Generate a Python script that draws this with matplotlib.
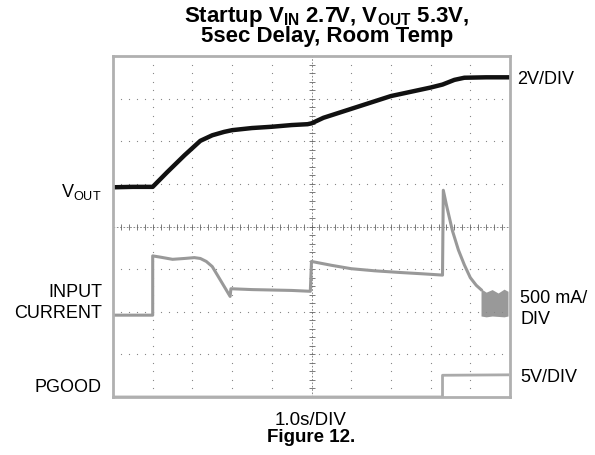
import matplotlib
matplotlib.use("Agg")
import matplotlib.pyplot as plt
import numpy as np

plt.rcParams['font.family'] = ['Liberation Sans', 'DejaVu Sans']
plt.rcParams['mathtext.fontset'] = 'custom'
plt.rcParams['mathtext.rm'] = 'Liberation Sans'
plt.rcParams['mathtext.bf'] = 'Liberation Sans:bold'

# traces, in scope divisions (x: 0..10, y: 0..8 from bottom)
t_vout = [0, 0.5, 1.0, 1.36, 1.8, 2.2, 2.5, 2.8, 3.0, 3.5, 4.0, 4.5, 4.9,
          5.0, 5.3, 6.0, 7.0, 8.0, 8.3, 8.6, 8.85, 9.4, 9.95]
vout = [4.92, 4.93, 4.93, 5.27, 5.67, 6.01, 6.14, 6.22, 6.26, 6.31, 6.34, 6.38, 6.40,
        6.42, 6.55, 6.76, 7.06, 7.26, 7.33, 7.44, 7.49, 7.50, 7.50]

t_iin = [0, 1.0, 1.0, 1.2, 1.5, 1.8, 2.05, 2.2, 2.35, 2.5, 2.7, 2.95, 2.97, 3.5, 4.0,
         4.5, 4.97, 5.0, 5.5, 6.0, 6.6, 7.25, 7.8, 8.3, 8.32, 8.4, 8.55, 8.7,
         8.85, 9.0, 9.15, 9.27]
iin = [1.92, 1.92, 3.31, 3.28, 3.23, 3.25, 3.27, 3.25, 3.18, 3.06, 2.75, 2.36, 2.54, 2.52, 2.51,
       2.50, 2.48, 3.18, 3.09, 3.01, 2.96, 2.92, 2.89, 2.86, 4.85, 4.5, 3.9, 3.45,
       3.1, 2.8, 2.62, 2.52]

# switching ripple band at the end of the current trace
t_band = [9.27, 9.4, 9.55, 9.7, 9.85, 9.95]
band_hi = [2.54, 2.46, 2.52, 2.44, 2.53, 2.48]
band_lo = [1.9, 1.88, 1.9, 1.89, 1.88, 1.9]

t_pg = [0, 8.3, 8.3, 9.95]
pgood = [0.0, 0.0, 0.51, 0.52]

fig = plt.figure(figsize=(5.95, 4.56), dpi=100)
ax = fig.add_axes([113/595, 1 - 398/456, 397/595, 341/456])
ax.set_xlim(0, 10)
ax.set_ylim(0, 8)

# graticule: dotted grid, center cross with minor ticks
sub = np.arange(0, 10.01, 0.2)
subv = np.arange(0, 8.01, 0.2)
for k in range(1, 10):
    if k != 5:
        ax.plot(np.full(len(subv), k), subv, ls='none', marker='s', ms=0.8, mew=0, color='#888888')
for k in range(1, 8):
    if k != 4:
        ax.plot(sub, np.full(len(sub), k), ls='none', marker='s', ms=0.8, mew=0, color='#888888')
ax.plot([0, 10], [4, 4], color='#777777', lw=0.6, ls=(0, (2, 2)))
ax.plot([5, 5], [0, 8], color='#777777', lw=0.6, ls=(0, (2, 2)))
ax.plot(sub, np.full(len(sub), 4), ls='none', marker='|', ms=4, mew=0.6, color='#666666')
ax.plot(np.full(len(subv), 5), subv, ls='none', marker='_', ms=4, mew=0.6, color='#666666')

ax.plot(t_pg, pgood, color='#aaaaaa', lw=2)
ax.plot(t_iin, iin, color='#999999', lw=2.2, solid_joinstyle='round')
ax.fill_between(t_band, band_lo, band_hi, color='#999999', lw=0)
ax.plot(t_vout, vout, color='#111111', lw=3.2, solid_joinstyle='round')

ax.set_xticks([])
ax.set_yticks([])
for s in ax.spines.values():
    s.set_color('#b0b0b0')
    s.set_linewidth(2)

W, H = 595, 456
fs = 13
fig.text(327/W, 1 - 5/H, 'Startup $\\mathbf{V_{IN}}$ 2.7V, $\\mathbf{V_{OUT}}$ 5.3V,\n5sec Delay, Room Temp',
         ha='center', va='top', fontsize=16, fontweight='bold', linespacing=0.8)
fig.text(101/W, 1 - 192/H, 'V$_{\\mathrm{OUT}}$', ha='right', va='center', fontsize=fs)
fig.text(102/W, 1 - 303/H, 'INPUT\nCURRENT', ha='right', va='center', fontsize=fs,
         multialignment='right', linespacing=1.25)
fig.text(101/W, 1 - 387/H, 'PGOOD', ha='right', va='center', fontsize=fs)
fig.text(517/W, 1 - 79/H, '2V/DIV', ha='left', va='center', fontsize=fs)
fig.text(520/W, 1 - 309/H, '500 mA/\nDIV', ha='left', va='center', fontsize=fs, linespacing=1.25)
fig.text(520/W, 1 - 378/H, '5V/DIV', ha='left', va='center', fontsize=fs)
fig.text(311/W, 1 - 421/H, '1.0s/DIV', ha='center', va='center', fontsize=13.5)
fig.text(311/W, 1 - 438/H, 'Figure 12.', ha='center', va='center', fontsize=13.5, fontweight='bold')

fig.savefig('out.png', dpi=100)
